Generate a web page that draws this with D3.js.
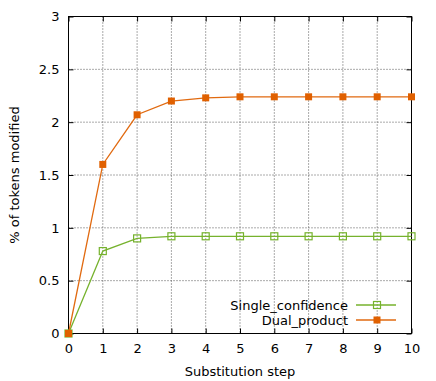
<!DOCTYPE html>
<html>
<head>
<meta charset="utf-8">
<script src="https://cdn.jsdelivr.net/npm/d3@7"></script>
<style>
  body { margin: 0; background: #fff; }
  text { font-family: "DejaVu Sans", sans-serif; font-size: 13px; fill: #000; }
</style>
</head>
<body>
<div class="chart"></div>
<script>
// Data
const steps = [0, 1, 2, 3, 4, 5, 6, 7, 8, 9, 10];
const singleConfidence = [0, 0.78, 0.9, 0.92, 0.92, 0.92, 0.92, 0.92, 0.92, 0.92, 0.92];
const dualProduct = [0, 1.6, 2.07, 2.2, 2.23, 2.24, 2.24, 2.24, 2.24, 2.24, 2.24];
const yTicks = [0, 0.5, 1, 1.5, 2, 2.5, 3];
const seriesNames = ["Single_confidence", "Dual_product"];

const W = 436, H = 381;
const margin = { top: 16.5, right: 24.5, bottom: 47.5, left: 68.5 };
const width = W - margin.left - margin.right;
const height = H - margin.top - margin.bottom;

const svg = d3.select(".chart")
    .append("svg")
    .attr("width", W)
    .attr("height", H);

const g = svg.append("g")
    .attr("transform", `translate(${margin.left}, ${margin.top})`);

const x = d3.scaleLinear().domain([0, 10]).range([0, width]);
const y = d3.scaleLinear().domain([0, 3]).range([height, 0]);

// Grid lines (dotted)
g.selectAll(".vgrid")
    .data(steps.slice(1, -1))
    .enter().append("line")
    .attr("x1", d => x(d)).attr("x2", d => x(d))
    .attr("y1", 0).attr("y2", height)
    .attr("stroke", "#555").attr("stroke-width", 1)
    .attr("stroke-dasharray", "1,2");

g.selectAll(".hgrid")
    .data(yTicks.slice(1, -1))
    .enter().append("line")
    .attr("x1", 0).attr("x2", width)
    .attr("y1", d => y(d)).attr("y2", d => y(d))
    .attr("stroke", "#555").attr("stroke-width", 1)
    .attr("stroke-dasharray", "1,2");

// Axes with inward ticks, mirrored
g.append("g")
    .attr("transform", `translate(0, ${height})`)
    .call(d3.axisBottom(x).tickValues(steps).tickSize(-5).tickPadding(10).tickFormat(d3.format("d")))
    .call(a => a.select(".domain").remove());
g.append("g")
    .call(d3.axisTop(x).tickValues(steps).tickSize(-5).tickFormat(""))
    .call(a => a.select(".domain").remove());
g.append("g")
    .call(d3.axisLeft(y).tickValues(yTicks).tickSize(-5).tickPadding(9).tickFormat(d3.format("")))
    .call(a => a.select(".domain").remove());
g.append("g")
    .attr("transform", `translate(${width}, 0)`)
    .call(d3.axisRight(y).tickValues(yTicks).tickSize(-5).tickFormat(""))
    .call(a => a.select(".domain").remove());

g.selectAll(".tick text")
    .style("font-family", "DejaVu Sans, sans-serif")
    .style("font-size", "13px")
    .attr("fill", "#000");
g.selectAll(".tick line").attr("stroke", "#000");

// Border
g.append("rect")
    .attr("width", width).attr("height", height)
    .attr("fill", "none").attr("stroke", "#000").attr("stroke-width", 1);

// Axis titles
svg.append("text")
    .attr("x", margin.left + width / 2)
    .attr("y", 376)
    .attr("text-anchor", "middle")
    .text("Substitution step");

svg.append("text")
    .attr("transform", "rotate(-90)")
    .attr("x", -(margin.top + height / 2))
    .attr("y", 19)
    .attr("text-anchor", "middle")
    .text("% of tokens modified");

// Series
const line = d3.line()
    .x((d, i) => x(steps[i]))
    .y(d => y(d));

const colors = ["#76b22d", "#e16a10"];
const dataSets = [singleConfidence, dualProduct];

dataSets.forEach((vals, k) => {
    g.append("path")
        .attr("d", line(vals))
        .attr("fill", "none")
        .attr("stroke", colors[k])
        .attr("stroke-width", 1.3);
    g.selectAll(".m" + k)
        .data(vals)
        .enter().append("rect")
        .attr("x", (d, i) => x(steps[i]) - 3.5)
        .attr("y", d => y(d) - 3.5)
        .attr("width", 7).attr("height", 7)
        .attr("fill", k === 0 ? "#fff" : "#e06000")
        .attr("fill-opacity", k === 0 ? 0 : 1)
        .attr("stroke", k === 0 ? colors[0] : "#e06000")
        .attr("stroke-width", k === 0 ? 1.2 : 0);
});

// Legend
const legend = svg.append("g");
seriesNames.forEach((name, k) => {
    const ly = 305 + k * 15;
    legend.append("text")
        .attr("x", 348).attr("y", ly + 5)
        .attr("text-anchor", "end")
        .text(name);
    legend.append("line")
        .attr("x1", 356).attr("x2", 396)
        .attr("y1", ly).attr("y2", ly)
        .attr("stroke", colors[k]).attr("stroke-width", 1.3);
    legend.append("rect")
        .attr("x", 377 - 3.5).attr("y", ly - 3.5)
        .attr("width", 7).attr("height", 7)
        .attr("fill", k === 0 ? "none" : "#e06000")
        .attr("stroke", k === 0 ? colors[0] : "none")
        .attr("stroke-width", 1.2);
});
</script>
</body>
</html>
